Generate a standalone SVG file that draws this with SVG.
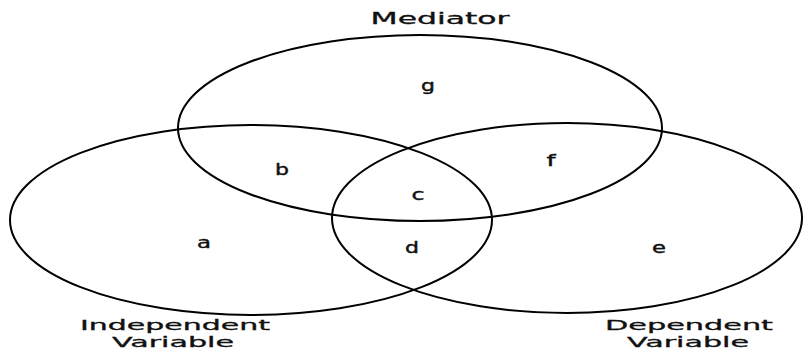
<svg xmlns="http://www.w3.org/2000/svg" width="804" height="351" viewBox="0 0 804 351">
<style>
.ell{fill:none;stroke:#000;stroke-width:2}
.lbl{font-family:"DejaVu Sans",sans-serif;font-size:15px;fill:#111;stroke:#111;stroke-width:0.3;text-anchor:middle}
.bot{font-size:14px}
.let{font-family:"DejaVu Sans",sans-serif;font-size:15px;fill:#111;stroke:#111;stroke-width:0.4;text-anchor:middle}
</style>
<rect width="804" height="351" fill="#fff"/>
<g id="mediator">
<ellipse class="ell" cx="420" cy="128" rx="242" ry="93"/>
<text class="lbl" x="440" y="24" textLength="139" lengthAdjust="spacingAndGlyphs">Mediator</text>
</g>
<g id="independent">
<ellipse class="ell" cx="251" cy="220" rx="241" ry="95"/>
<text class="lbl bot" x="175" y="330" textLength="190" lengthAdjust="spacingAndGlyphs">Independent</text>
<text class="lbl bot" x="173" y="347" textLength="122" lengthAdjust="spacingAndGlyphs">Variable</text>
</g>
<g id="dependent">
<ellipse class="ell" cx="567" cy="218" rx="235" ry="95"/>
<text class="lbl bot" x="689" y="330" textLength="168" lengthAdjust="spacingAndGlyphs">Dependent</text>
<text class="lbl bot" x="688" y="347" textLength="122" lengthAdjust="spacingAndGlyphs">Variable</text>
</g>
<g id="regions">
<text class="let" x="428" y="91" textLength="14" lengthAdjust="spacingAndGlyphs">g</text>
<text class="let" x="282" y="175" textLength="14" lengthAdjust="spacingAndGlyphs">b</text>
<text class="let" x="551" y="166" textLength="9" lengthAdjust="spacingAndGlyphs">f</text>
<text class="let" x="418" y="200" textLength="13" lengthAdjust="spacingAndGlyphs">c</text>
<text class="let" x="204" y="248" textLength="14" lengthAdjust="spacingAndGlyphs">a</text>
<text class="let" x="412" y="253" textLength="14" lengthAdjust="spacingAndGlyphs">d</text>
<text class="let" x="659" y="253" textLength="14" lengthAdjust="spacingAndGlyphs">e</text>
</g>
</svg>
